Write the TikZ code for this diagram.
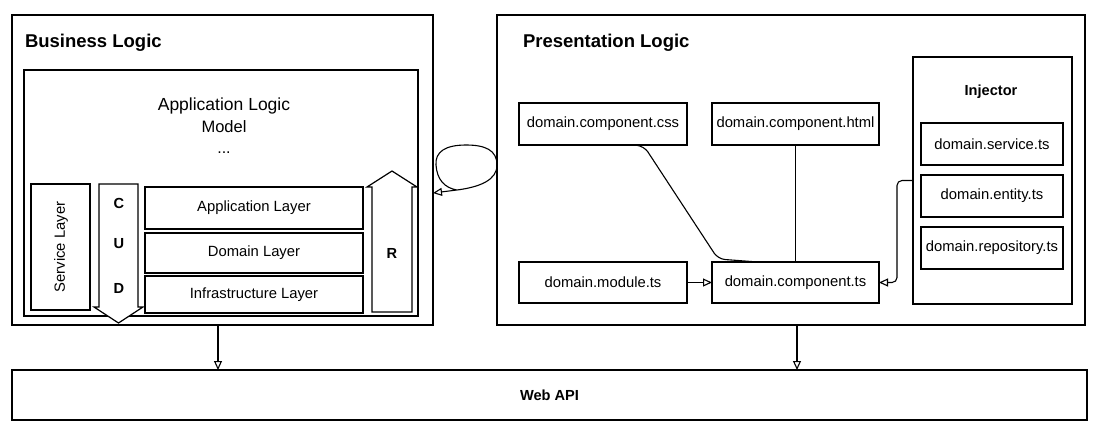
\documentclass[tikz,border=0pt]{standalone}
\usepackage{fontspec}
\setmainfont{Liberation Sans}
\usetikzlibrary{arrows.meta,calc}
\begin{document}
\begin{tikzpicture}[x=1pt,y=-1pt,
  every node/.style={inner sep=0pt,outer sep=0pt},
  box/.style={draw=black,line width=1.2pt,fill=white,align=center,font=\fontsize{14.8}{17}\selectfont},
  lbl/.style={font=\fontsize{14.8}{17}\selectfont},
  blbl/.style={font=\fontsize{14.6}{17}\selectfont\bfseries},
  head/.style={font=\fontsize{18.5}{22}\selectfont\bfseries,anchor=west},
  conn/.style={line width=1.1pt,black},
  arr/.style={conn,-{Triangle[open,length=9pt,width=8pt,line width=1.1pt]}},
  shp/.style={draw=black,line width=1.2pt,fill=white,line join=miter}]
\useasboundingbox (0,0) rectangle (1098,437);
% outer boxes
\node[box,minimum width=421,minimum height=310] (biz) at (222.5,170) {};
\node[box,minimum width=588,minimum height=310] (pres) at (791,170) {};
\node[head] (bizt) at (25,43) {Business Logic};
\node[head] (prest) at (523,43) {Presentation Logic};
% application logic
\node[box,minimum width=394,minimum height=246] (app) at (221,193) {};
\node[font=\fontsize{17.5}{20}\selectfont] (appt) at (224,106) {Application Logic};
\node[font=\fontsize{16.5}{19}\selectfont] (model) at (224,127) {Model};
\node[font=\fontsize{16}{19}\selectfont,anchor=base] (dots) at (224,153) {...};
\node[box,minimum width=59,minimum height=126] (svc) at (60.5,247) {};
\node[lbl,rotate=90] (svct) at (61,247) {Service Layer};
\node[box,minimum width=218,minimum height=42] (al) at (254,208) {Application Layer};
\node[box,minimum width=218,minimum height=40] (dl) at (254,253) {Domain Layer};
\node[box,minimum width=218,minimum height=37] (il) at (254,294.5) {Infrastructure Layer};
% CUD arrow
\draw[shp] (99,184) -- (138,184) -- (138,307) -- (143,307) -- (118.5,323) -- (94,307) -- (99,307) -- cycle;
\node[blbl] (c) at (119,203) {C};
\node[blbl] (u) at (119,244) {U};
\node[blbl] (d) at (119,288) {D};
% R arrow
\draw[shp] (372,312) -- (372,187) -- (367,187) -- (392,171) -- (417,187) -- (412,187) -- (412,312) -- cycle;
\node[blbl] (r) at (392,253) {R};
% presentation
\node[box,minimum width=168,minimum height=42] (css) at (603,124) {domain.component.css};
\node[box,minimum width=167,minimum height=42] (html) at (795.5,124) {domain.component.html};
\node[box,minimum width=168,minimum height=41] (mod) at (603,282.5) {domain.module.ts};
\node[box,minimum width=167,minimum height=41] (ts) at (795.5,282.5) {domain.component.ts};
\node[box,minimum width=159,minimum height=247] (inj) at (992.5,180.5) {};
\node[blbl] (injt) at (991,92) {Injector};
\node[box,minimum width=142,minimum height=42] (srv) at (992,144) {domain.service.ts};
\node[box,minimum width=142,minimum height=42] (ent) at (992,196) {domain.entity.ts};
\node[box,minimum width=142,minimum height=42] (repo) at (992,248) {domain.repository.ts};
% web api
\node[box,minimum width=1075,minimum height=50,font=\fontsize{14.6}{17}\selectfont\bfseries] (web) at (549.5,395) {Web API};
% connectors
\draw[conn] (html.south) -- (ts.north);
\draw[conn,rounded corners=7pt] (css.south -| 633,0) -- (644,146) -- (718,259) -- (ts.north -| 758,0);
\draw[arr] (mod.east) -- (ts.west);
\draw[arr,rounded corners=5pt] (inj.west) -- ++(-16,0) |- (ts.east);
\draw[arr] (biz.south -| 218,0) -- (web.north -| 218,0);
\draw[arr] (pres.south -| 797,0) -- (web.north -| 797,0);
% loop connector
\coordinate (ls) at (457,190);
\draw[arr] (ls) .. controls (480,187) and (497,180) .. (497,165)
  .. controls (497,150) and (485,145) .. (466,145)
  .. controls (445,145) and (435,152) .. (436,165)
  .. controls (437,180) and (445,188) .. (ls) -- (biz.east |- 0,193);
\end{tikzpicture}
\end{document}
